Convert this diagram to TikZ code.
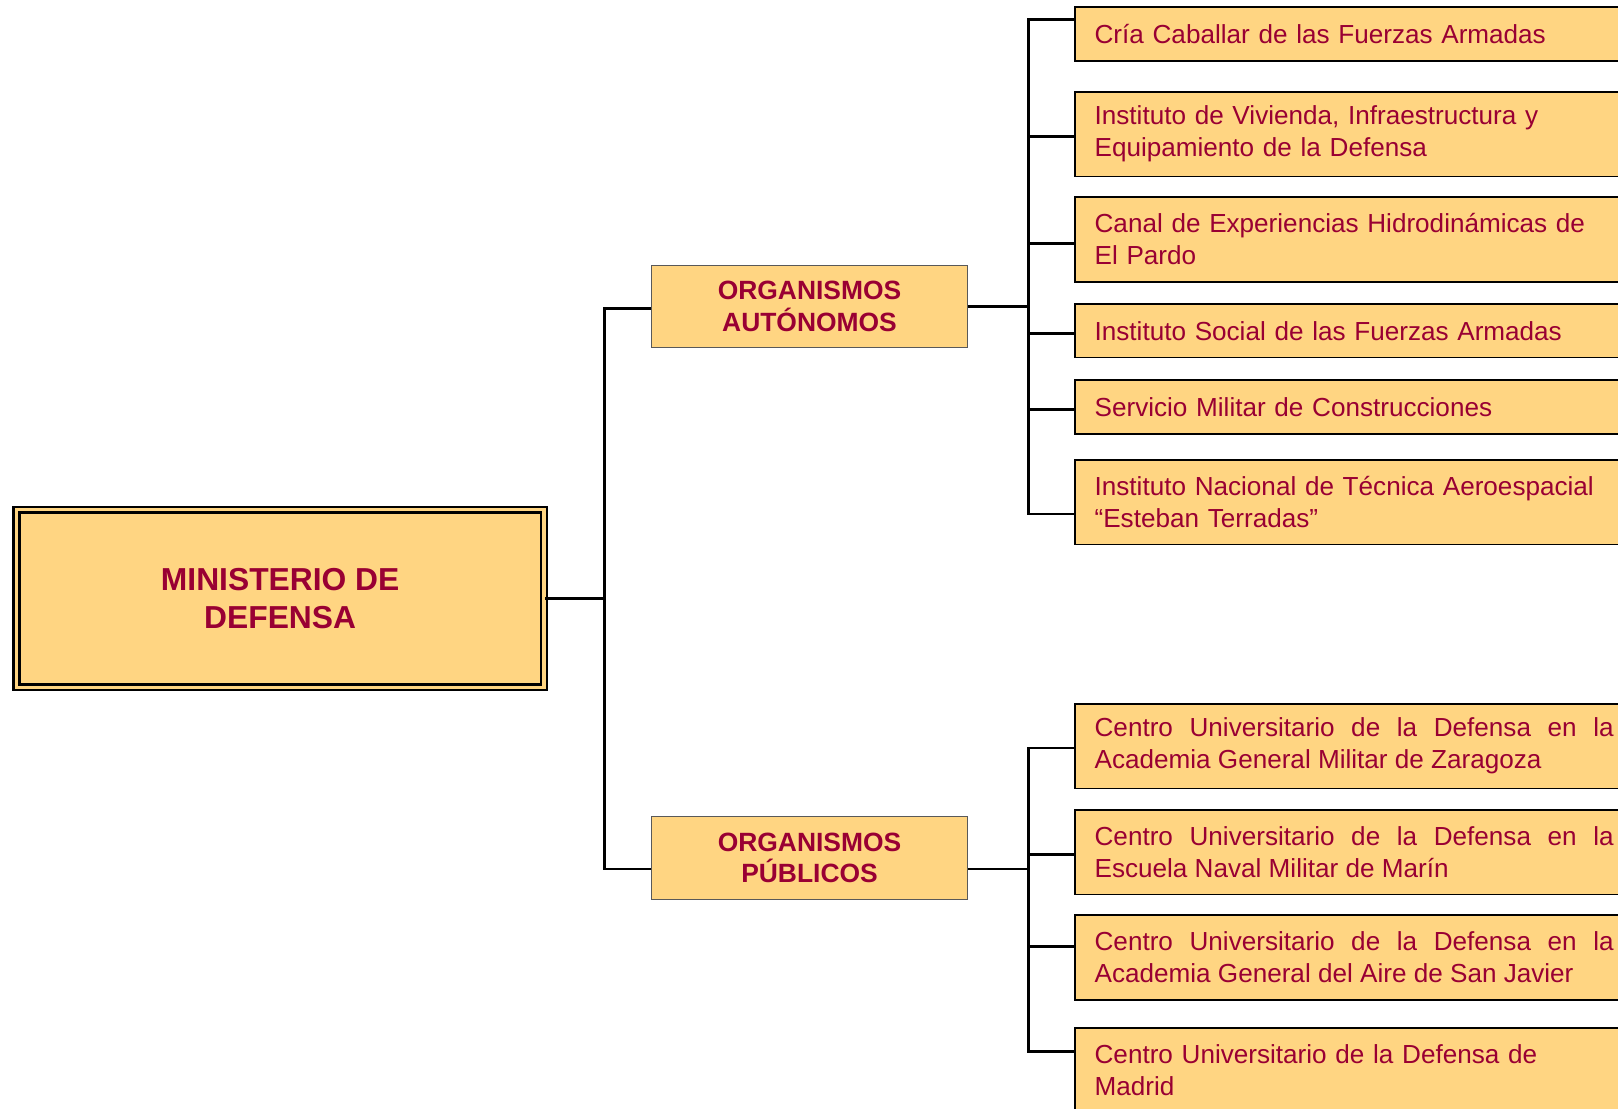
\documentclass[tikz,border=0pt]{standalone}
\usepackage{fontspec}
\setmainfont{Liberation Sans}
\usepackage{xcolor}
\usepackage{tikz}
\usetikzlibrary{positioning,calc}

\definecolor{boxfill}{RGB}{255,213,130}
\definecolor{boxtext}{RGB}{153,0,51}

\begin{document}
\begin{tikzpicture}[x=1pt,y=-1pt,
	link/.style={line width=2.6pt},
	minbox/.style={draw=black, line width=2.4pt, double=boxfill, double distance=3.3pt, fill=boxfill, text=boxtext, minimum width=511pt, minimum height=172pt, align=center, font=\bfseries\fontsize{30.8}{37}\selectfont},
	orgbox/.style={draw=black!65, line width=1pt, fill=boxfill, text=boxtext, minimum width=307pt, minimum height=80pt, align=center, font=\bfseries\fontsize{25.6}{30.5}\selectfont},
	unitbox/.style={draw=black, line width=1.6pt, fill=boxfill, text=boxtext, anchor=west, inner xsep=19pt, inner ysep=0pt, text width=503pt, align=left, font=\fontsize{25.3}{31}\selectfont},
	oneline/.style={unitbox, minimum height=52pt},
	twoline/.style={unitbox, minimum height=82pt},
	justline/.style={twoline, align=justify}]
	%set diagram left start at 0, and has height of 1074
	\useasboundingbox (0,0) rectangle (1568,1074);
	\clip (0,0) rectangle (1568,1074);
	\fill[white] (0,0) rectangle (1568,1074);

	%Shape: Rectangle (ministerio)
	\node[minbox] (min) at (271.5,580) {MINISTERIO DE\\DEFENSA};
	%Shape: Rectangle (organismos)
	\node[orgbox] (aut) at (784.5,297) {ORGANISMOS\\AUTÓNOMOS};
	\node[orgbox] (pub) at (784.5,831.5) {ORGANISMOS\\PÚBLICOS};

	% Text Node
	\node[oneline] (b1) at (1041,33) {Cría Caballar de las Fuerzas Armadas};
	% Text Node
	\node[twoline] (b2) at (1041,130) {Instituto de Vivienda, Infraestructura y\\Equipamiento de la Defensa};
	% Text Node
	\node[twoline] (b3) at (1041,232) {Canal de Experiencias Hidrodinámicas de\\El Pardo};
	% Text Node
	\node[oneline] (b4) at (1041,320.5) {Instituto Social de las Fuerzas Armadas};
	% Text Node
	\node[oneline] (b5) at (1041,394.5) {Servicio Militar de Construcciones};
	% Text Node
	\node[twoline] (b6) at (1041,486.5) {Instituto Nacional de Técnica Aeroespacial\\“Esteban Terradas”};
	% Text Node
	\node[justline] (b7) at (1041,723) {Centro Universitario de la Defensa en la\linebreak Academia General Militar de Zaragoza};
	% Text Node
	\node[justline] (b8) at (1041,826) {Centro Universitario de la Defensa en la\linebreak Escuela Naval Militar de Marín};
	% Text Node
	\node[justline] (b9) at (1041,928) {Centro Universitario de la Defensa en la\linebreak Academia General del Aire de San Javier};
	% Text Node
	\node[twoline] (b10) at (1041,1037.5) {Centro Universitario de la Defensa de\\Madrid};

	%Straight Lines (joints)
	\coordinate (ma) at (586,299);
	\coordinate (mp) at (586,842);
	\coordinate (ja) at (997,299);
	\coordinate (jp) at (997,842);
	\foreach \n/\y in {1/19,2/132,3/236,4/323,5/397,6/498,7/725,8/828,9/917,10/1019}
		\coordinate (s\n) at (997,\y);

	%Straight Lines (ministerio to organismos)
	\draw[link] (min.east) -- (min.east -| ma);
	\draw[link] (ma -| aut.west) -- (ma) -- (mp) -- (mp -| pub.west);

	%Straight Lines (organismos autonomos)
	\draw[link] (aut.east) -- (aut.east -| ja);
	\draw[link] (s1 -| b1.west) -- (s1) -- (s6) -- (s6 -| b6.west);
	\foreach \n in {2,...,5}
		\draw[link] (s\n) -- (s\n -| b\n.west);

	%Straight Lines (organismos publicos)
	\draw[link] (mp -| pub.east) -- (jp);
	\draw[link] (s7 -| b7.west) -- (s7) -- (s10) -- (s10 -| b10.west);
	\foreach \n in {8,9}
		\draw[link] (s\n) -- (s\n -| b\n.west);
\end{tikzpicture}
\end{document}
